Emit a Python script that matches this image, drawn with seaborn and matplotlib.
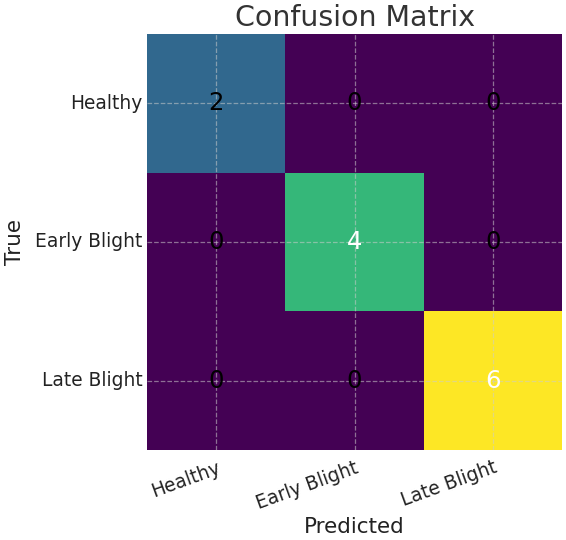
import matplotlib
matplotlib.use("Agg")
import matplotlib.pyplot as plt
import seaborn as sns
import numpy as np
import pandas as pd

classes = ["Healthy", "Early Blight", "Late Blight"]
row_healthy = [2, 0, 0]
row_early = [0, 4, 0]
row_late = [0, 0, 6]

sns.set_theme(style="whitegrid")
plt.rcParams["font.family"] = ["DejaVu Sans"]

cm = pd.DataFrame([row_healthy, row_early, row_late], index=classes, columns=classes)

fig = plt.figure(figsize=(5.66, 5.4), dpi=100)
ax = fig.add_axes([0.26, 0.167, 0.733, 0.77])
sns.heatmap(cm, cmap="viridis", cbar=False, annot=True, fmt="d",
            annot_kws={"size": 17.5}, ax=ax, square=False)

for t in ax.texts:
    v = float(t.get_text())
    t.set_color("white" if v > 3 else "black")

ax.set_axisbelow(False)
ax.grid(True, linestyle="--", color="#cccccc", alpha=0.55, linewidth=0.9)
ax.set_title("Confusion Matrix", fontsize=20.5, color="#333333", pad=6)
ax.set_xlabel("Predicted", fontsize=15.5, color="#222222", labelpad=3)
ax.set_ylabel("True", fontsize=15.5, color="#222222", labelpad=7)
ax.tick_params(axis="both", labelsize=13.4, colors="#222222", length=0)
ax.tick_params(axis="x", pad=6)
plt.setp(ax.get_xticklabels(), rotation=20, ha="right", rotation_mode="anchor")
plt.setp(ax.get_yticklabels(), rotation=0)
for s in ax.spines.values():
    s.set_visible(False)

fig.savefig("out.png", dpi=100)
